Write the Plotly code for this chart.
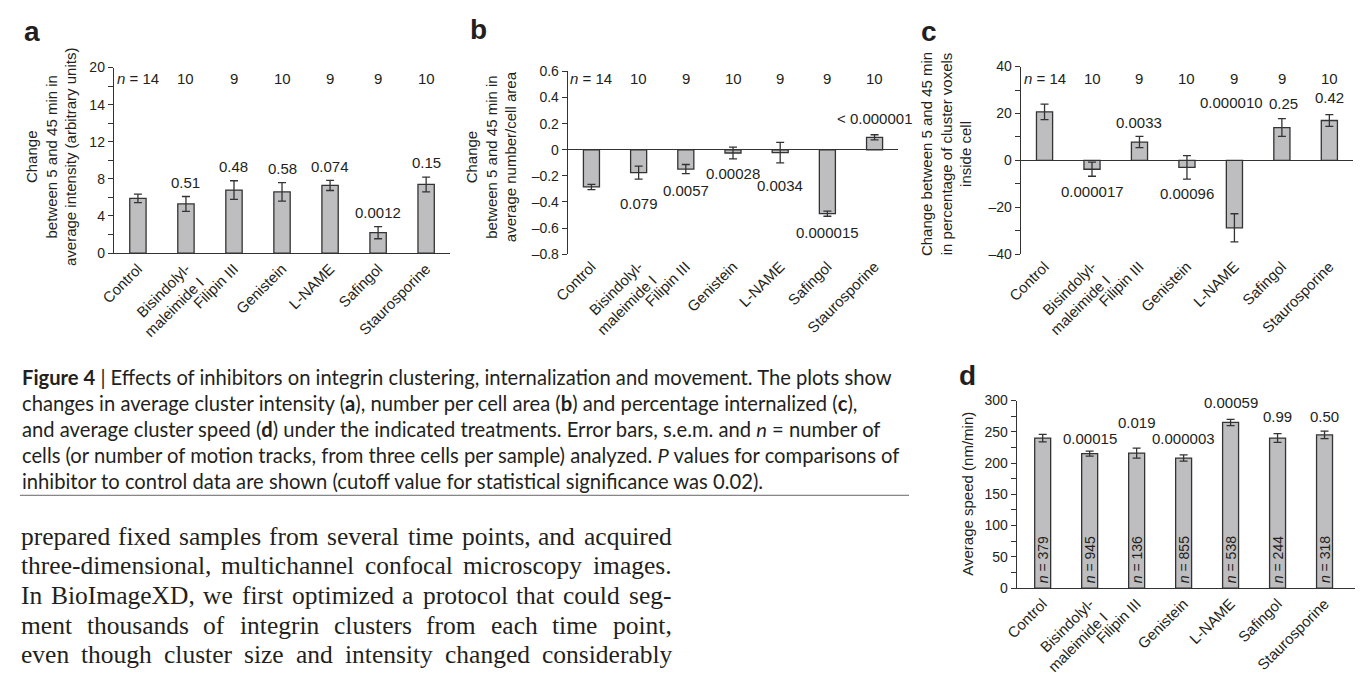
import plotly.graph_objects as go

# ---------------- data ----------------
categories = ["Control", "Bisindolyl-<br>maleimide I", "Filipin III", "Genistein",
              "L-NAME", "Safingol", "Staurosporine"]
n_cells = [14, 10, 9, 10, 9, 9, 10]

a_vals = [5.9, 5.3, 6.8, 6.6, 7.3, 2.2, 7.4]
a_err = [0.45, 0.8, 1.0, 1.0, 0.55, 0.65, 0.8]
a_p = [None, "0.51", "0.48", "0.58", "0.074", "0.0012", "0.15"]
a_ticks = [0, 4, 8, 12, 16, 20]
a_ticktext = ["0", "4", "8", "12", "14", "20"]

b_vals = [-0.285, -0.175, -0.148, -0.025, -0.022, -0.49, 0.095]
b_err = [0.02, 0.05, 0.035, 0.045, 0.078, 0.02, 0.02]
b_p = [None, "0.079", "0.0057", "0.00028", "0.0034", "0.000015", "< 0.000001"]
b_ticks = [-0.8, -0.6, -0.4, -0.2, 0, 0.2, 0.4, 0.6]
b_ticktext = ["\u20130.8", "\u20130.6", "\u20130.4", "\u20130.2", "0", "0.2", "0.4", "0.6"]

c_vals = [20.7, -3.8, 7.8, -3.0, -28.8, 14.0, 17.0]
c_err = [3.3, 3.0, 2.4, 5.0, 6.0, 3.8, 2.5]
c_p = [None, "0.000017", "0.0033", "0.00096", "0.000010", "0.25", "0.42"]
c_ticks = [-40, -20, 0, 20, 40]
c_ticktext = ["\u201340", "\u201320", "0", "20", "40"]

d_vals = [240, 215, 216, 208, 265, 240, 245]
d_err = [6, 4, 8, 5, 5, 7, 6]
d_p = [None, "0.00015", "0.019", "0.000003", "0.00059", "0.99", "0.50"]
d_n = [379, 945, 136, 855, 538, 244, 318]
d_ticks = [0, 50, 100, 150, 200, 250, 300]

# p-label placement: side, pixel distance from error-bar end, horizontal nudge
a_side = ["", "up", "up", "up", "up", "up", "up"]
a_shift = [0, 14, 14, 14, 14, 14, 15]
b_side = ["", "down", "down", "down", "down", "down", "up"]
b_shift = [0, 24, 17, 15, 23, 16, 16]
c_side = ["", "down", "up", "down", "up", "up", "up"]
c_shift = [0, 15, 14, 14, 58, 15, 17]
d_side = ["", "up", "up", "up", "up", "up", "up"]
d_shift = [0, 13, 26, 16, 17, 17, 15]
zero_nudge = [0, 0, 0, 0, 0, 0, 0]
c_nudge = [0, 0, 0, 0, -3, 2, 0]

caption_lines = [
    "<b>Figure 4</b> | Effects of inhibitors on integrin clustering, internalization and movement. The plots show",
    "changes in average cluster intensity (<b>a</b>), number per cell area (<b>b</b>) and percentage internalized (<b>c</b>),",
    "and average cluster speed (<b>d</b>) under the indicated treatments. Error bars, s.e.m. and <i>n</i> = number of",
    "cells (or number of motion tracks, from three cells per sample) analyzed. <i>P</i> values for comparisons of",
    "inhibitor to control data are shown (cutoff value for statistical significance was 0.02).",
]
body_lines = [
    "prepared fixed samples from several time points, and acquired",
    "three-dimensional, multichannel confocal microscopy images.",
    "In BioImageXD, we first optimized a protocol that could seg-",
    "ment thousands of integrin clusters from each time point,",
    "even though cluster size and intensity changed considerably",
]

# ---------------- style ----------------
W, H = 1362, 682
INK = "#231f20"
AX = "#333333"
BAR = "#bebec0"
FONT = "Liberation Sans, Arial, sans-serif"
SERIF = "Liberation Serif, Times New Roman, serif"
BODY_SIZE = 25.5
BODY_LEFT, BODY_RIGHT = 5, 662

TIMES_W = dict(zip("abcdefghijklmnopqrstuvwxyz",
                   [444, 500, 444, 500, 444, 333, 500, 500, 278, 278, 500, 278, 778,
                    500, 500, 500, 500, 333, 389, 278, 500, 500, 722, 500, 500, 444]))
TIMES_W.update(dict(zip("ABCDEFGHIJKLMNOPQRSTUVWXYZ",
                        [722, 667, 667, 722, 611, 556, 722, 722, 333, 389, 722, 611, 889,
                         722, 722, 556, 722, 667, 556, 611, 722, 722, 944, 722, 722, 611])))
TIMES_W.update({" ": 250, ",": 250, ".": 250, "-": 333})


def X(px):
    return px / W


def Y(py):
    return 1 - py / H


def word_width(w, size):
    return sum(TIMES_W.get(ch, 500) for ch in w) / 1000 * size


fig = go.Figure()
xs = list(range(len(categories)))

panels = [
    ("", a_vals, a_err, a_p, a_side, a_shift, zero_nudge, (100, 440), (61, 251), [0, 20], [-0.5, 6.5]),
    ("2", b_vals, b_err, b_p, b_side, b_shift, zero_nudge, (559, 893), (65, 252), [-0.8, 0.6], [-0.5, 6.5]),
    ("3", c_vals, c_err, c_p, c_side, c_shift, c_nudge, (1017, 1353), (60, 252), [-40, 40], [-0.5, 6.5]),
    ("4", d_vals, d_err, d_p, d_side, d_shift, zero_nudge, (1013, 1355), (402, 594), [0, 300], [-0.55, 6.65]),
]

annotations = []
for sfx, vals, err, pv, side, shift, nudge, xd, yd, yr, xr in panels:
    fig.add_trace(go.Bar(
        x=xs, y=vals, width=0.34, xaxis="x" + sfx, yaxis="y" + sfx,
        marker=dict(color=BAR, line=dict(color=AX, width=1.3)),
        error_y=dict(type="data", array=err, symmetric=True, color=AX, thickness=1.3, width=4),
        hoverinfo="skip",
    ))
    xa = dict(domain=[X(xd[0]), X(xd[1])], anchor="y" + sfx, range=xr,
              tickvals=xs, ticktext=categories, tickangle=-45,
              tickfont=dict(family=FONT, size=15, color=INK),
              showgrid=False, zeroline=False, ticks="",
              showline=(sfx in ("", "4")), linecolor=AX, linewidth=1.3)
    ya = dict(domain=[Y(yd[1]), Y(yd[0])], anchor="x" + sfx, range=yr,
              showgrid=False, zeroline=(sfx in ("2", "3")), zerolinecolor=AX, zerolinewidth=1.3,
              showline=True, linecolor=AX, linewidth=1.3, ticks="outside", ticklen=5,
              tickwidth=1.2, tickcolor=AX, tickfont=dict(family=FONT, size=14, color=INK))
    fig.layout["xaxis" + sfx] = xa
    fig.layout["yaxis" + sfx] = ya

    for i, p in enumerate(pv):
        if not p:
            continue
        if side[i] == "up":
            yv = max(vals[i] + err[i], 0)
            ys = shift[i]
        else:
            yv = min(vals[i] - err[i], 0)
            ys = -shift[i]
        annotations.append(dict(x=xs[i], y=yv, xref="x" + sfx, yref="y" + sfx, text=p,
                                showarrow=False, xanchor="center", yanchor="middle",
                                yshift=ys, xshift=nudge[i],
                                font=dict(family=FONT, size=15, color=INK)))

fig.layout.yaxis.update(tickvals=a_ticks, ticktext=a_ticktext,
                        minor=dict(tickvals=[2, 6, 10, 14, 18], ticks="outside", ticklen=5,
                                   tickwidth=1.2, tickcolor=AX))
fig.layout.yaxis2.update(tickvals=b_ticks, ticktext=b_ticktext)
fig.layout.yaxis3.update(tickvals=c_ticks, ticktext=c_ticktext,
                         minor=dict(tickvals=[-30, -10, 10, 30], ticks="outside", ticklen=5,
                                    tickwidth=1.2, tickcolor=AX))
fig.layout.yaxis4.update(tickvals=d_ticks, ticktext=[str(t) for t in d_ticks],
                         minor=dict(tickvals=[25, 75, 125, 175, 225, 275], ticks="outside",
                                    ticklen=5, tickwidth=1.2, tickcolor=AX))

# n labels along the top of panels a, b, c
for sfx, yshift in (("", -11), ("2", -7), ("3", -12)):
    for i, n in enumerate(n_cells):
        txt = f"<i>n</i> = {n}" if i == 0 else str(n)
        annotations.append(dict(x=xs[i], y=1, xref="x" + sfx, yref=f"y{sfx} domain", text=txt,
                                showarrow=False, xanchor="center", yanchor="middle", yshift=yshift,
                                font=dict(family=FONT, size=15, color=INK)))

# n labels inside the bars of panel d
for i, n in enumerate(d_n):
    annotations.append(dict(x=xs[i], y=0, xref="x4", yref="y4", text=f"<i>n</i> = {n}",
                            textangle=-90, showarrow=False, xanchor="center", yanchor="bottom",
                            yshift=3, font=dict(family=FONT, size=14, color=INK)))

ytitles = [
    ("Change<br>between 5 and 45 min in<br>average intensity (arbitrary units)", 37, 153),
    ("Change<br>between 5 and 45 min in<br>average number/cell area", 482, 152),
    ("Change between 5 and 45 min<br>in percentage of cluster voxels<br>inside cell", 942, 150),
    ("Average speed (nm/min)", 963, 497),
]
for t, px, py in ytitles:
    annotations.append(dict(x=X(px), y=Y(py), xref="paper", yref="paper", text=t, textangle=-90,
                            showarrow=False, xanchor="center", yanchor="middle", align="center",
                            font=dict(family=FONT, size=15, color=INK)))

for t, px, py in (("a", 17, 24), ("b", 469, 22), ("c", 924, 24), ("d", 963, 376)):
    annotations.append(dict(x=X(px), y=Y(py), xref="paper", yref="paper", text=f"<b>{t}</b>",
                            showarrow=False, xanchor="center", yanchor="middle",
                            font=dict(family=FONT, size=28, color=INK)))

for k, line in enumerate(caption_lines):
    annotations.append(dict(x=X(5), y=Y(378 + k * 26.6), xref="paper", yref="paper", text=line,
                            showarrow=False, xanchor="left", yanchor="middle", align="left",
                            font=dict(family="Lato, Open Sans, sans-serif", size=20.2, color=INK)))

# body text, justified word by word between the two margins
for k, line in enumerate(body_lines):
    words = line.split(" ")
    widths = [word_width(w, BODY_SIZE) for w in words]
    gap = (BODY_RIGHT - BODY_LEFT - sum(widths)) / (len(words) - 1)
    xpos = BODY_LEFT
    for w, ww in zip(words, widths):
        annotations.append(dict(x=X(xpos), y=Y(541 + k * 30.3), xref="paper", yref="paper",
                                text=w, showarrow=False, xanchor="left", yanchor="middle",
                                borderpad=0, font=dict(family=SERIF, size=BODY_SIZE, color=INK)))
        xpos += ww + gap

fig.update_layout(
    width=W, height=H, margin=dict(l=0, r=0, t=0, b=0),
    paper_bgcolor="white", plot_bgcolor="rgba(0,0,0,0)", showlegend=False,
    font=dict(family=FONT, size=14, color=INK),
    annotations=annotations,
    shapes=[dict(type="line", xref="paper", yref="paper", x0=X(5), x1=X(904),
                 y0=Y(499), y1=Y(499), line=dict(color="#666", width=1))],
)

fig.write_html("out.html", config={"displayModeBar": False},
               post_script="document.body.style.margin='0px';document.body.style.padding='0px';")
